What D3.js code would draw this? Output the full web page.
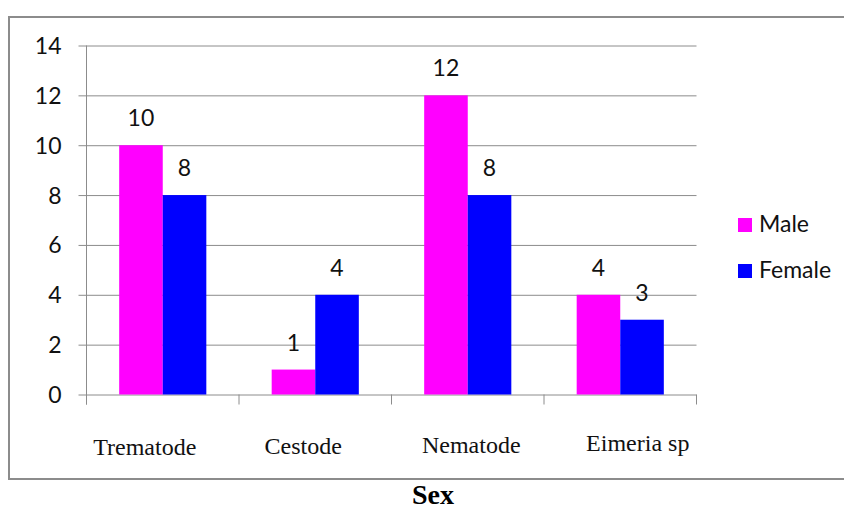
<!DOCTYPE html>
<html>
<head>
<meta charset="utf-8">
<script src="https://cdn.jsdelivr.net/npm/d3@7"></script>
<style>
  html, body { margin: 0; padding: 0; background: #fff; }
  svg { display: block; }
</style>
</head>
<body>
<svg id="chart" width="844" height="506"></svg>
<script>
// Parasite counts by sex
const categories = ["Trematode", "Cestode", "Nematode", "Eimeria sp"];
const seriesNames = ["Male", "Female"];
const maleValues = [10, 1, 12, 4];
const femaleValues = [8, 4, 8, 3];
const yTicks = [0, 2, 4, 6, 8, 10, 12, 14];
const axisTitle = "Sex";

// Layout
const W = 844, H = 506;
const plot = { left: 86.5, right: 696.5, top: 45.5, bottom: 394.5 };
const colors = { Male: "#ff00ff", Female: "#0000ff" };
const gridColor = "#8c8c8c";
const textColor = "#111";
const sansFont = "Lato, 'Open Sans', sans-serif";
const serifFont = "'Liberation Serif', 'DejaVu Serif', serif";
// hand-placed category label nudges (x, y)
const labelNudgeX = [-18, -12, 3.5, 17.5];
const labelNudgeY = [0.5, -0.5, -1, -3];

const svg = d3.select("#chart");

// Outer frame
svg.append("rect")
  .attr("x", 9).attr("y", 17)
  .attr("width", 860).attr("height", 462)
  .attr("fill", "none")
  .attr("stroke", gridColor)
  .attr("stroke-width", 2);

const x = d3.scaleBand().domain(categories).range([plot.left, plot.right]).paddingInner(0).paddingOuter(0);
const xInner = d3.scaleBand().domain(seriesNames).range([0, x.bandwidth()]).paddingInner(0).paddingOuter(0.75);
const y = d3.scaleLinear().domain([0, 14]).range([plot.bottom, plot.top]);

// Horizontal gridlines + y tick labels
const yAxis = d3.axisLeft(y)
  .tickValues(yTicks)
  .tickSize(-(plot.right - plot.left + 8))
  .tickSizeOuter(0)
  .tickPadding(0)
  .tickFormat(d3.format("d"));

const gy = svg.append("g")
  .attr("transform", `translate(${plot.right},0)`)
  .call(yAxis);
gy.select(".domain").remove();
gy.selectAll(".tick line")
  .attr("x1", 0)
  .attr("x2", -(plot.right - plot.left + 8))
  .attr("stroke", gridColor)
  .attr("stroke-width", 1);
gy.selectAll(".tick text")
  .attr("x", -(plot.right - plot.left + 8) - 17)
  .attr("dy", null)
  .attr("y", 8)
  .attr("text-anchor", "end")
  .attr("fill", textColor)
  .style("font-family", sansFont)
  .style("font-size", "23px");

// Vertical axis line
svg.append("line")
  .attr("x1", plot.left).attr("x2", plot.left)
  .attr("y1", plot.top).attr("y2", plot.bottom + 10)
  .attr("stroke", gridColor).attr("stroke-width", 1);

// Category boundary ticks on the x axis
const bounds = categories.map(c => x(c)).concat([plot.right]);
svg.append("g").selectAll("line")
  .data(bounds)
  .join("line")
  .attr("x1", d => d).attr("x2", d => d)
  .attr("y1", plot.bottom).attr("y2", plot.bottom + 10)
  .attr("stroke", gridColor).attr("stroke-width", 1);

// Bars
const rows = categories.map((c, i) => ({
  category: c,
  values: [
    { name: "Male", value: maleValues[i] },
    { name: "Female", value: femaleValues[i] }
  ]
}));

const groups = svg.append("g").selectAll("g")
  .data(rows)
  .join("g")
  .attr("transform", d => `translate(${x(d.category)},0)`);

groups.selectAll("rect")
  .data(d => d.values)
  .join("rect")
  .attr("x", d => xInner(d.name))
  .attr("y", d => y(d.value))
  .attr("width", xInner.bandwidth())
  .attr("height", d => y(0) - y(d.value))
  .attr("fill", d => colors[d.name]);

// Value labels
groups.selectAll("text.value")
  .data(d => d.values)
  .join("text")
  .attr("class", "value")
  .attr("x", d => xInner(d.name) + xInner.bandwidth() / 2)
  .attr("y", d => y(d.value) - 19)
  .attr("text-anchor", "middle")
  .attr("fill", textColor)
  .style("font-family", sansFont)
  .style("font-size", "23px")
  .text(d => d.value);

// Category labels
svg.append("g").selectAll("text")
  .data(categories)
  .join("text")
  .attr("x", (d, i) => x(d) + x.bandwidth() / 2 + labelNudgeX[i])
  .attr("y", (d, i) => 454 + labelNudgeY[i])
  .attr("text-anchor", "middle")
  .attr("fill", textColor)
  .style("font-family", serifFont)
  .style("font-size", "24px")
  .text(d => d);

// Legend
const legend = svg.append("g").selectAll("g")
  .data(seriesNames)
  .join("g")
  .attr("transform", (d, i) => `translate(738,${218 + i * 46})`);
legend.append("rect")
  .attr("width", 14).attr("height", 14)
  .attr("fill", d => colors[d]);
legend.append("text")
  .attr("x", 21).attr("y", 14)
  .attr("fill", textColor)
  .style("font-family", sansFont)
  .style("font-size", "23px")
  .text(d => d);

// Axis title below the frame
svg.append("text")
  .attr("x", 433).attr("y", 504)
  .attr("text-anchor", "middle")
  .attr("fill", "#000")
  .style("font-family", serifFont)
  .style("font-weight", "bold")
  .style("font-size", "28px")
  .text(axisTitle);
</script>
</body>
</html>
